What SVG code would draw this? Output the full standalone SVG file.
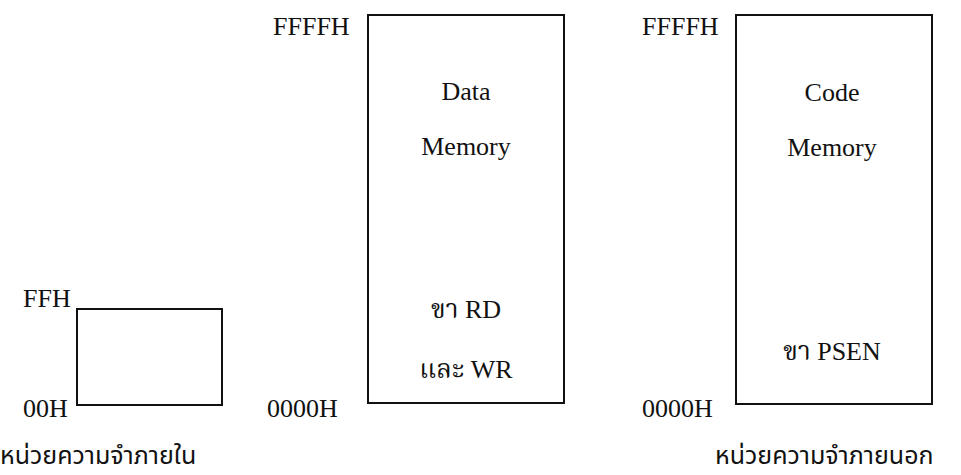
<svg xmlns="http://www.w3.org/2000/svg" width="961" height="475" viewBox="0 0 961 475">
<style>
.box{fill:none;stroke:#111;stroke-width:2}
.lbl{font-family:"Liberation Serif","Noto Serif Thai","Noto Sans Thai",serif;font-size:26px;fill:#111}
.in{font-family:"Liberation Serif","Noto Serif Thai","Noto Sans Thai",serif;font-size:26px;fill:#111;text-anchor:middle}
.cap{font-family:"Noto Sans Thai","Noto Sans","DejaVu Sans",sans-serif;font-size:25px;fill:#111}
</style>
<rect width="961" height="475" fill="#fff"/>
<g id="internal">
<rect class="box" x="77" y="309" width="145" height="96"/>
<text class="lbl" x="23" y="307">FFH</text>
<text class="lbl" x="23" y="417">00H</text>
<text class="cap" x="0" y="464">หน่วยความจำภายใน</text>
</g>
<g id="data-memory">
<rect class="box" x="368" y="15" width="196" height="388"/>
<text class="lbl" x="273" y="35">FFFFH</text>
<text class="lbl" x="267" y="417">0000H</text>
<text class="in" x="466" y="100">Data</text>
<text class="in" x="466" y="155">Memory</text>
<text class="in" x="466" y="318">ขา RD</text>
<text class="in" x="466" y="378">และ WR</text>
</g>
<g id="code-memory">
<rect class="box" x="736" y="15" width="196" height="389"/>
<text class="lbl" x="642" y="35">FFFFH</text>
<text class="lbl" x="642" y="417">0000H</text>
<text class="in" x="832" y="101">Code</text>
<text class="in" x="832" y="156">Memory</text>
<text class="in" x="832" y="360">ขา PSEN</text>
<text class="cap" x="715" y="464">หน่วยความจำภายนอก</text>
</g>
<g id="connectors"></g>
</svg>
